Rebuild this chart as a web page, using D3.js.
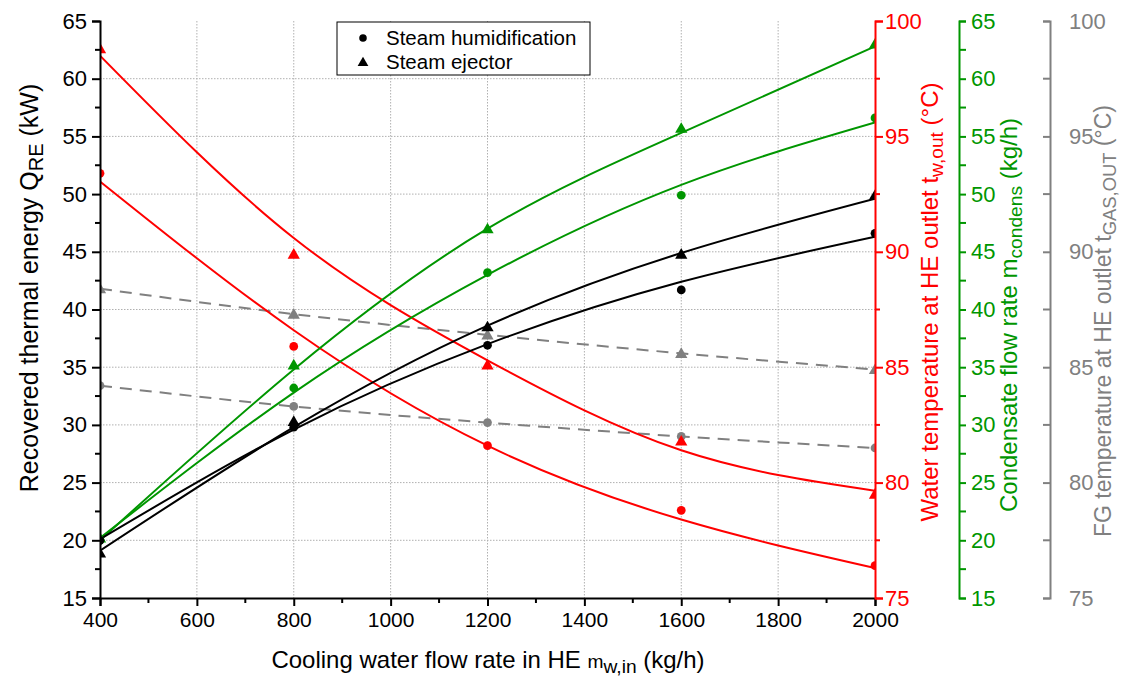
<!DOCTYPE html>
<html><head><meta charset="utf-8">
<script src="https://cdn.jsdelivr.net/npm/d3@7/dist/d3.min.js"></script>
<style>
html,body{margin:0;padding:0;background:#fff;}
svg text{font-family:"Liberation Sans",Arial,sans-serif;}
</style></head>
<body><svg id="c" width="1122" height="685"></svg>
<script>
// ---- data ----
const flowRates = [400, 800, 1200, 1600, 2000];
const xTicks = [400, 600, 800, 1000, 1200, 1400, 1600, 1800, 2000];
const leftTicks = [15, 20, 25, 30, 35, 40, 45, 50, 55, 60, 65];
const tempTicks = [75, 80, 85, 90, 95, 100];
const seriesNames = ["Steam humidification", "Steam ejector"];

// Recovered thermal energy Q_RE (kW) – black, left axis
const qreHumid = [20.0, 29.8, 36.9, 41.7, 46.6];
const qreEject = [18.9, 30.3, 38.5, 44.8, 49.9];
const qreHumidFit = [20.1, 29.6, 37.0, 42.4, 46.3];
const qreEjectFit = [19.1, 29.8, 38.6, 44.9, 49.6];

// Water temperature at HE outlet (°C) – red axis
const twHumid = [93.4, 85.9, 81.6, 78.8, 76.4];
const twEject = [98.8, 89.9, 85.1, 81.8, 79.5];
const twHumidFit = [93.05, 86.6, 81.6, 78.4, 76.3];
const twEjectFit = [98.5, 90.6, 85.3, 81.4, 79.65];

// Condensate flow rate (kg/h) – green axis
const mcHumid = [20.0, 33.2, 43.2, 49.9, 56.6];
const mcEject = [20.2, 35.2, 47.0, 55.7, 63.0];
const mcHumidFit = [20.2, 32.8, 43.0, 50.8, 56.2];
const mcEjectFit = [20.0, 34.8, 47.0, 55.3, 62.8];

// FG temperature at HE outlet (°C) – gray axis
const fgHumid = [84.2, 83.3, 82.6, 82.0, 81.5];
const fgEject = [88.4, 87.3, 86.4, 85.6, 84.9];
const fgHumidFit = [84.2, 83.3, 82.6, 82.0, 81.5];
const fgEjectFit = [88.4, 87.3, 86.4, 85.6, 84.9];

// ---- layout ----
const L = 100, R = 875, T = 21, B = 598;
const RED = "#ff0000", GREEN = "#009600", GRAY = "#808080";
const svg = d3.select("#c");
const x = d3.scaleLinear().domain([400, 2000]).range([L, R]);
const yL = d3.scaleLinear().domain([15, 65]).range([B, T]);
const yRed = d3.scaleLinear().domain([75, 100]).range([B, T]);
const yGreen = d3.scaleLinear().domain([15, 65]).range([B, T]);
const yGray = d3.scaleLinear().domain([75, 100]).range([B, T]);

svg.append("defs").append("clipPath").attr("id", "clip")
  .append("rect").attr("x", L).attr("y", T).attr("width", R - L).attr("height", B - T);

// grid
const grid = svg.append("g");
grid.selectAll(".hg").data(leftTicks.filter(v => v > 15 && v < 65)).join("line")
  .attr("x1", L).attr("x2", R).attr("y1", d => yL(d)).attr("y2", d => yL(d))
  .attr("stroke", "#b0b0b0").attr("stroke-width", 1).attr("stroke-dasharray", "1.5,1.5");
grid.selectAll(".vg").data(xTicks.filter(v => v > 400 && v < 2000)).join("line")
  .attr("y1", T).attr("y2", B).attr("x1", d => x(d)).attr("x2", d => x(d))
  .attr("stroke", "#b0b0b0").attr("stroke-width", 1).attr("stroke-dasharray", "1.5,1.5");

// series
const plot = svg.append("g").attr("clip-path", "url(#clip)");
function fitLine(vals, scale, color, dashed) {
  const line = d3.line().x((d, i) => x(flowRates[i])).y(d => scale(d)).curve(d3.curveNatural);
  plot.append("path").datum(vals).attr("d", line).attr("fill", "none")
    .attr("stroke", color).attr("stroke-width", 2)
    .attr("stroke-dasharray", dashed ? "12,8" : null);
}
function markers(vals, scale, color, shape) {
  const sym = d3.symbol().type(shape === "tri" ? d3.symbolTriangle : d3.symbolCircle)
    .size(shape === "tri" ? 65 : 60);
  plot.selectAll(null).data(vals).join("path")
    .attr("d", sym)
    .attr("transform", (d, i) => `translate(${x(flowRates[i])},${scale(d) + (shape === "tri" ? 1 : 0)})`)
    .attr("fill", color);
}
fitLine(fgHumidFit, yGray, GRAY, true);
fitLine(fgEjectFit, yGray, GRAY, true);
fitLine(twHumidFit, yRed, RED);
fitLine(twEjectFit, yRed, RED);
fitLine(mcHumidFit, yGreen, GREEN);
fitLine(mcEjectFit, yGreen, GREEN);
fitLine(qreHumidFit, yL, "#000");
fitLine(qreEjectFit, yL, "#000");
markers(fgHumid, yGray, GRAY, "circ");
markers(fgEject, yGray, GRAY, "tri");
markers(twHumid, yRed, RED, "circ");
markers(twEject, yRed, RED, "tri");
markers(mcHumid, yGreen, GREEN, "circ");
markers(mcEject, yGreen, GREEN, "tri");
markers(qreHumid, yL, "#000", "circ");
markers(qreEject, yL, "#000", "tri");

// axes
const FS = 22;
function styleAxis(g, color) {
  g.select(".domain").attr("stroke", color).attr("stroke-width", 2);
  g.selectAll(".tick line").attr("stroke", color).attr("stroke-width", 2);
  g.selectAll(".tick text").attr("fill", color).attr("font-size", FS)
    .attr("font-family", '"Liberation Sans",Arial,sans-serif');
}
function minorTicks(g, scale, vals, orient, len, color) {
  g.selectAll(null).data(vals).join("line")
    .attr("x1", 0).attr("x2", orient * len)
    .attr("y1", d => scale(d)).attr("y2", d => scale(d))
    .attr("stroke", color).attr("stroke-width", 2);
}
const minorLeft = d3.range(17.5, 65, 5);
const minorTemp = d3.range(77.5, 100, 5);

// bottom
const gx = svg.append("g").attr("transform", `translate(0,${B})`)
  .call(d3.axisBottom(x).tickValues(xTicks).tickSizeOuter(0).tickSize(8).tickPadding(6).tickFormat(d3.format("d")));
styleAxis(gx, "#000");
gx.selectAll(".tick text").attr("font-size", 21);
gx.selectAll(null).data(d3.range(500, 2000, 200)).join("line")
  .attr("x1", d => x(d)).attr("x2", d => x(d)).attr("y1", 0).attr("y2", 5)
  .attr("stroke", "#000").attr("stroke-width", 2);

// left
const gl = svg.append("g").attr("transform", `translate(${L},0)`)
  .call(d3.axisLeft(yL).tickValues(leftTicks).tickSizeOuter(0).tickSize(8).tickPadding(5));
styleAxis(gl, "#000");
minorTicks(gl, yL, minorLeft, -1, 5, "#000");

// red
const gr = svg.append("g").attr("transform", `translate(${R},0)`)
  .call(d3.axisRight(yRed).tickValues(tempTicks).tickSizeOuter(0).tickSize(8).tickPadding(2));
styleAxis(gr, RED);
minorTicks(gr, yRed, minorTemp, 1, 5, RED);

// green
const GX = 959;
const gg = svg.append("g").attr("transform", `translate(${GX},0)`)
  .call(d3.axisRight(yGreen).tickValues(leftTicks).tickSizeOuter(0).tickSize(7).tickPadding(5));
styleAxis(gg, GREEN);
minorTicks(gg, yGreen, minorLeft, 1, 7, GREEN);

// gray
const GYX = 1050;
const gy = svg.append("g").attr("transform", `translate(${GYX},0)`)
  .call(d3.axisRight(yGray).tickValues(tempTicks).tickSizeOuter(0).tickSize(-7).tickPadding(19));
styleAxis(gy, GRAY);
minorTicks(gy, yGray, minorTemp, -1, 7, GRAY);

// titles
function title(tx, ty, rot, parts, color, size) {
  const t = svg.append("text").attr("transform", `translate(${tx},${ty}) rotate(${rot})`)
    .attr("text-anchor", "middle").attr("fill", color).attr("font-size", size);
  parts.forEach(p => {
    const s = t.append("tspan").text(p.t);
    if (p.sub) s.attr("baseline-shift", "-25%").attr("font-size", size * 0.8);
    if (p.small) s.attr("font-size", size * 0.8);
  });
}
title(38, 288, -90, [{t: "Recovered thermal energy Q"}, {t: "RE", sub: 1}, {t: " (kW)"}], "#000", 25);
title(488, 668, 0, [{t: "Cooling water flow rate in HE "}, {t: "m", small: 1}, {t: "w,in", sub: 1}, {t: " (kg/h)"}], "#000", 24);
title(938, 302, -90, [{t: "Water temperature at HE outlet t"}, {t: "w,out", sub: 1}, {t: " (°C)"}], RED, 24);
title(1017, 315, -90, [{t: "Condensate flow rate m"}, {t: "condens", sub: 1}, {t: " (kg/h)"}], GREEN, 24);
title(1111, 321, -90, [{t: "FG temperature at HE outlet t"}, {t: "GAS,OUT", sub: 1}, {t: " (°C)"}], GRAY, 23);

// legend
const lg = svg.append("g");
lg.append("rect").attr("x", 337).attr("y", 22).attr("width", 253).attr("height", 53)
  .attr("fill", "#fff").attr("stroke", "#000").attr("stroke-width", 1);
const shapes = [d3.symbolCircle, d3.symbolTriangle];
seriesNames.forEach((n, i) => {
  const yy = 38 + i * 24;
  lg.append("path").attr("d", d3.symbol().type(shapes[i]).size(i ? 50 : 45)())
    .attr("transform", `translate(363,${yy + (i ? 1 : 0)})`).attr("fill", "#000");
  lg.append("text").attr("x", 386).attr("y", yy + 7).attr("font-size", 20.5).attr("fill", "#000").text(n);
});
</script></body></html>
